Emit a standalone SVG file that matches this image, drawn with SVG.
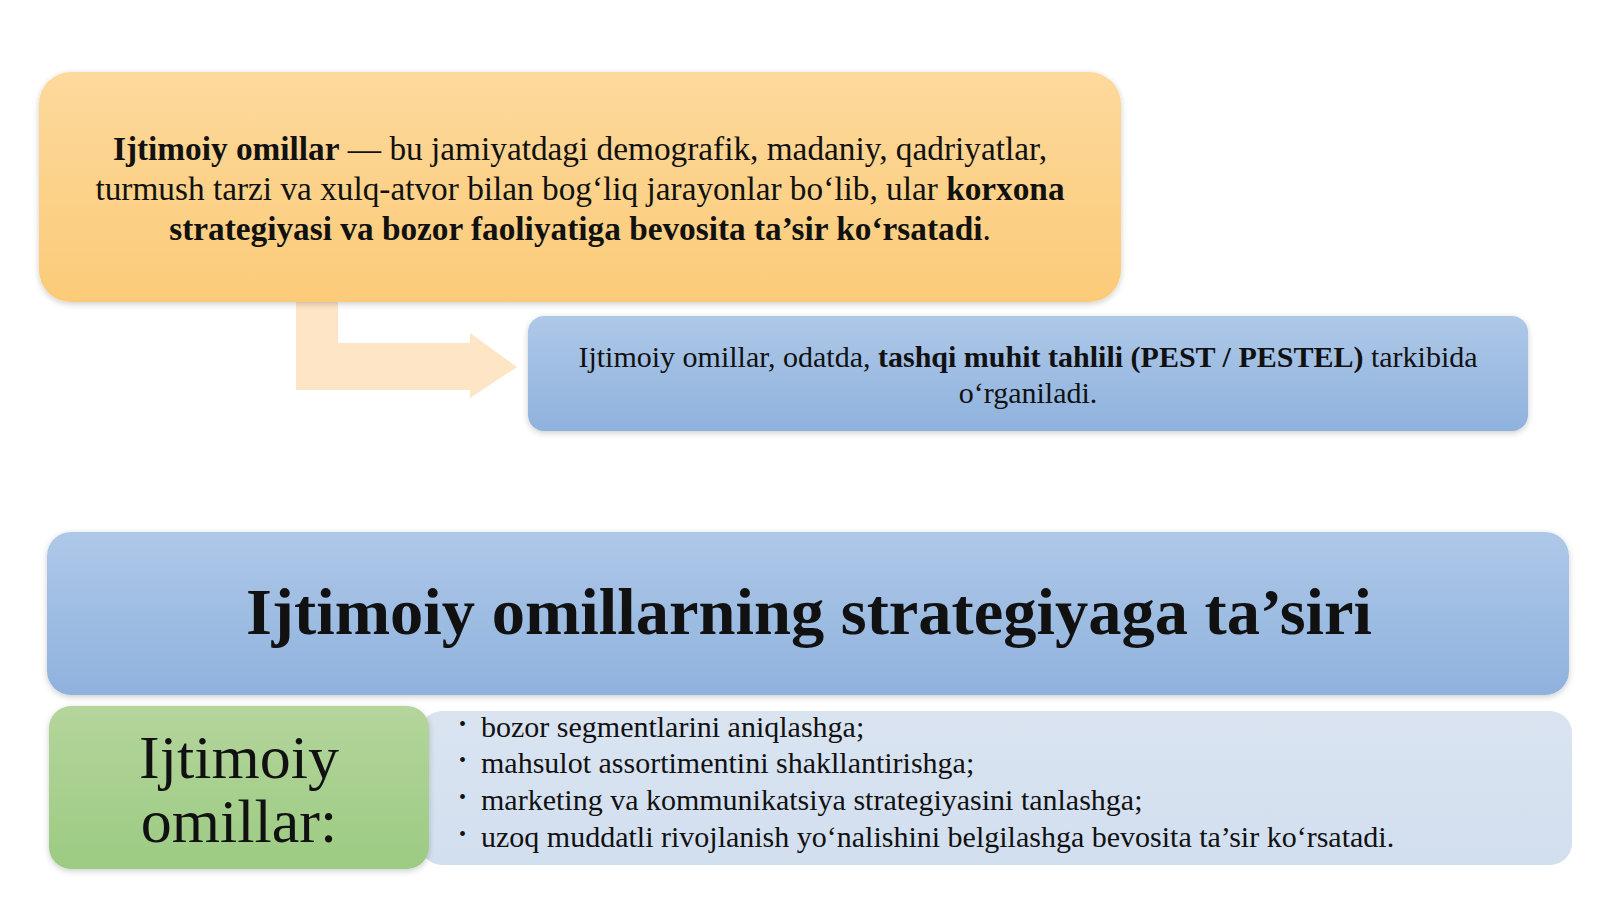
<svg xmlns="http://www.w3.org/2000/svg" width="1600" height="899" viewBox="0 0 1600 899">
<style>
text{font-family:"Liberation Serif","Times New Roman",serif;fill:#111;}
.b{font-weight:bold;}
.t1{font-size:33.3px;}
.t2{font-size:30px;}
.t3{font-size:30px;}
.dot{font-size:20px;}
.title{font-size:66.5px;font-weight:bold;}
.big{font-size:62px;}
</style>
<defs>
<linearGradient id="gOr" x1="0" y1="0" x2="0" y2="1"><stop offset="0" stop-color="#fdd99c"/><stop offset="1" stop-color="#fbcb78"/></linearGradient>
<linearGradient id="gBl" x1="0" y1="0" x2="0" y2="1"><stop offset="0" stop-color="#aec8e8"/><stop offset="1" stop-color="#8fb2dd"/></linearGradient>
<linearGradient id="gGr" x1="0" y1="0" x2="0" y2="1"><stop offset="0" stop-color="#b4d59c"/><stop offset="1" stop-color="#9ccb82"/></linearGradient>
<linearGradient id="gLb" x1="0" y1="0" x2="0" y2="1"><stop offset="0" stop-color="#dae4f1"/><stop offset="1" stop-color="#d2dfef"/></linearGradient>
<filter id="sh" x="-5%" y="-10%" width="110%" height="125%"><feGaussianBlur in="SourceAlpha" stdDeviation="3"/><feOffset dy="2"/><feComponentTransfer><feFuncA type="linear" slope="0.2"/></feComponentTransfer><feMerge><feMergeNode/><feMergeNode in="SourceGraphic"/></feMerge></filter>
</defs>
<rect width="1600" height="899" fill="#ffffff"/>
<g id="connectors">
<path d="M296,302 H338 V343 H470 V333 L517,367 L470,398 V390 H296 Z" fill="#fde5c6"/>
</g>
<g id="node-definition">
<rect x="39" y="72" width="1082" height="230" rx="32" fill="url(#gOr)" filter="url(#sh)"/>
<text class="t1" x="580" y="160" text-anchor="middle"><tspan class="b">Ijtimoiy omillar</tspan> — bu jamiyatdagi demografik, madaniy, qadriyatlar,</text>
<text class="t1" x="580" y="200" text-anchor="middle">turmush tarzi va xulq-atvor bilan bog‘liq jarayonlar bo‘lib, ular <tspan class="b">korxona</tspan></text>
<text class="t1" x="580" y="240" text-anchor="middle"><tspan class="b">strategiyasi va bozor faoliyatiga bevosita ta’sir ko‘rsatadi</tspan>.</text>
</g>
<g id="node-pest">
<rect x="528" y="316" width="1000" height="115" rx="16" fill="url(#gBl)" filter="url(#sh)"/>
<text class="t2" x="1028" y="367" text-anchor="middle">Ijtimoiy omillar, odatda, <tspan class="b">tashqi muhit tahlili (PEST / PESTEL)</tspan> tarkibida</text>
<text class="t2" x="1028" y="403" text-anchor="middle">o‘rganiladi.</text>
</g>
<g id="node-title">
<rect x="47" y="532" width="1522" height="163" rx="24" fill="url(#gBl)" filter="url(#sh)"/>
<text class="title" x="809" y="634" text-anchor="middle">Ijtimoiy omillarning strategiyaga ta’siri</text>
</g>
<g id="node-list">
<rect x="420" y="711" width="1152" height="154" rx="22" fill="url(#gLb)"/>
<text class="dot" x="459" y="731">•</text>
<text class="t3" x="481" y="737">bozor segmentlarini aniqlashga;</text>
<text class="dot" x="459" y="767">•</text>
<text class="t3" x="481" y="773">mahsulot assortimentini shakllantirishga;</text>
<text class="dot" x="459" y="804">•</text>
<text class="t3" x="481" y="810">marketing va kommunikatsiya strategiyasini tanlashga;</text>
<text class="dot" x="459" y="841">•</text>
<text class="t3" x="481" y="847">uzoq muddatli rivojlanish yo‘nalishini belgilashga bevosita ta’sir ko‘rsatadi.</text>
</g>
<g id="node-label">
<rect x="49" y="706" width="380" height="163" rx="22" fill="url(#gGr)" filter="url(#sh)"/>
<text class="big" x="239" y="778" text-anchor="middle">Ijtimoiy</text>
<text class="big" x="239" y="842" text-anchor="middle">omillar:</text>
</g>
</svg>
